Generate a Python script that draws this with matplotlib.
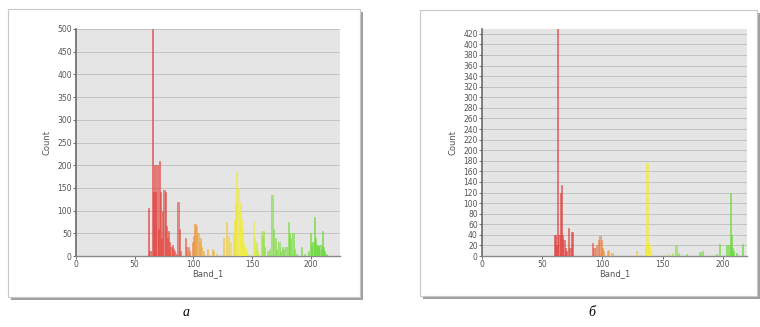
import matplotlib.pyplot as plt
from matplotlib.patches import Rectangle
from matplotlib.colors import LinearSegmentedColormap

# panel a
band_a = [62, 63, 65, 66, 67, 68, 69, 70, 71, 72, 73, 74, 75, 76, 77, 78, 79, 80, 81, 82, 83, 84, 86, 87, 88, 89,
          93, 94, 96, 97, 99, 100, 101, 102, 103, 104, 105, 106, 107, 109, 112, 116, 117, 120,
          126, 128, 130, 132, 134, 135, 136, 137, 138, 139, 140, 141, 142, 143, 144, 145, 146,
          151, 152, 153, 154, 155, 158, 159, 160, 161, 163, 165, 167, 168, 170, 171, 173, 174, 176, 177,
          179, 181, 182, 183, 185, 186, 188, 192, 195, 198, 200, 201, 202, 203, 204, 205, 206, 207, 208,
          209, 210, 211, 212, 213]
count_a = [105, 10, 500, 140, 200, 140, 200, 60, 210, 140, 40, 100, 145, 140, 65, 40, 55, 30, 20, 25, 15, 10, 5, 120, 60, 10,
           40, 20, 20, 10, 30, 45, 70, 70, 65, 50, 30, 40, 20, 10, 15, 15, 10, 5,
           40, 75, 45, 30, 50, 80, 120, 185, 150, 100, 120, 80, 60, 30, 20, 10, 5,
           75, 40, 20, 30, 10, 55, 45, 55, 20, 10, 15, 135, 60, 40, 15, 30, 10, 20, 15,
           20, 75, 50, 40, 50, 15, 5, 20, 5, 10, 50, 25, 30, 85, 40, 25, 25, 20, 25,
           15, 55, 20, 10, 5]

# panel b
band_b = [60, 61, 62, 63, 64, 65, 66, 67, 68, 69, 70, 72, 73, 74, 75,
          92, 93, 95, 97, 98, 99, 100, 101, 104, 105, 108,
          128, 136, 137, 138, 139, 140,
          155, 158, 161, 163, 170, 181, 183, 195, 197, 203, 205, 206, 207, 208, 209, 211, 216]
count_b = [40, 40, 20, 430, 40, 120, 135, 40, 30, 15, 10, 52, 15, 45, 45,
           25, 15, 20, 30, 38, 30, 15, 10, 10, 12, 5,
           10, 20, 175, 25, 22, 10,
           3, 5, 20, 5, 3, 8, 10, 3, 22, 20, 20, 120, 40, 15, 10, 5, 22]

yticks_a = list(range(0, 501, 50))
yticks_b = list(range(0, 421, 20))
xticks = [0, 50, 100, 150, 200]

cmap = LinearSegmentedColormap.from_list(
    "band", [(0, "#e03c3c"), (0.2, "#e65040"), (0.27, "#eea038"), (0.42, "#f0c438"),
             (0.5, "#f2ee30"), (0.58, "#e8f038"), (0.65, "#82e040"), (1, "#60d830")])


def frame(fig, x0, y0, x1, y1):
    W, H = 760, 327
    fig.patches.append(Rectangle(((x0 + 3) / W, 1 - (y1 + 3) / H), (x1 - x0) / W, (y1 - y0) / H,
                                 transform=fig.transFigure, facecolor="#a0a0a0", edgecolor="none", zorder=-2))
    fig.patches.append(Rectangle((x0 / W, 1 - y1 / H), (x1 - x0) / W, (y1 - y0) / H,
                                 transform=fig.transFigure, facecolor="white", edgecolor="#c8c8c8",
                                 linewidth=0.8, zorder=-1))


def panel(ax, band, count, yticks, xmax, ymax):
    ax.set_zorder(2)
    ax.set_facecolor("#e5e5e5")
    cols = [cmap((b - 60) / 157) for b in band]
    ax.bar(band, count, width=1.0, color=cols, alpha=0.6, edgecolor=cols, linewidth=0.6, zorder=3)
    ax.set_xlim(0, xmax)
    ax.set_ylim(0, ymax)
    ax.set_yticks(yticks)
    ax.set_xticks(xticks)
    ax.yaxis.grid(True, color="#bdbdbd", linewidth=0.6, zorder=0)
    ax.set_axisbelow(True)
    ax.tick_params(labelsize=5.5, colors="#555555", length=2, width=0.6, pad=1)
    for s in ["top", "right"]:
        ax.spines[s].set_visible(False)
    ax.spines["left"].set_color("#6a6a6a")
    ax.spines["left"].set_linewidth(1.2)
    ax.spines["bottom"].set_color("#8a8a8a")
    ax.spines["bottom"].set_linewidth(1.0)
    ax.set_xlabel("Band_1", fontsize=6, color="#555555", labelpad=0)
    ax.set_ylabel("Count", fontsize=6, color="#555555", labelpad=4)


fig = plt.figure(figsize=(7.6, 3.27), dpi=100)
frame(fig, 8, 9, 360, 297)
frame(fig, 420, 10, 757, 296)

ax1 = fig.add_axes([76 / 760, 1 - 256 / 327, (340 - 76) / 760, (256 - 29) / 327])
panel(ax1, band_a, count_a, yticks_a, 225, 500)

ax2 = fig.add_axes([482 / 760, 1 - 256 / 327, (747 - 482) / 760, (256 - 29) / 327])
panel(ax2, band_b, count_b, yticks_b, 220, 429)

fig.text(186 / 760, 1 - 313 / 327, "а", fontsize=10, style="italic", family="Liberation Serif",
         ha="center", va="center")
fig.text(592 / 760, 1 - 313 / 327, "б", fontsize=10, style="italic", family="Liberation Serif",
         ha="center", va="center")

fig.savefig("out.png", dpi=100)
